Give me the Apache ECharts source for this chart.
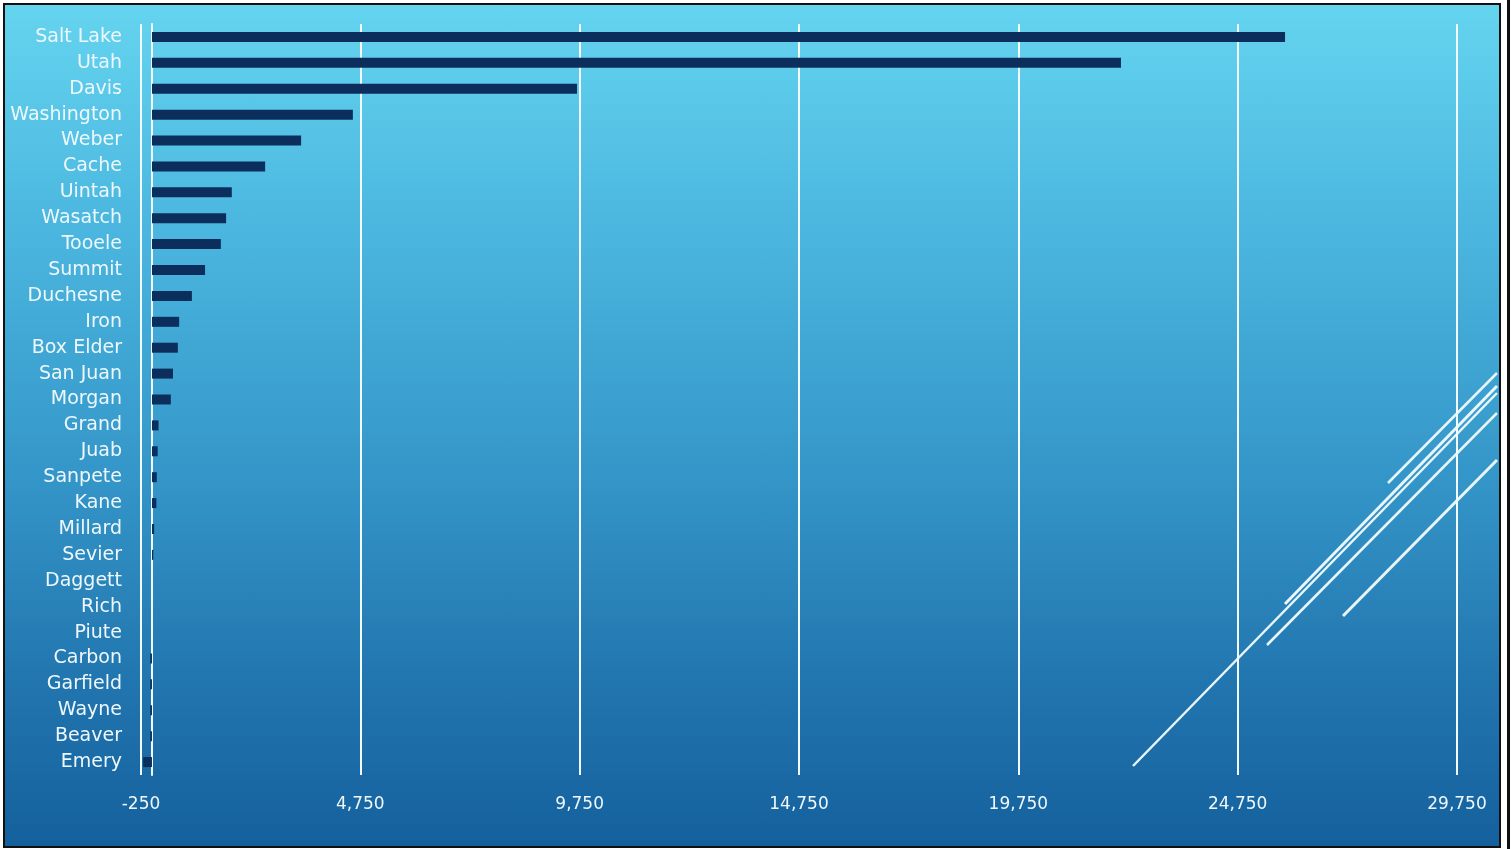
<!DOCTYPE html>
<html>
<head>
<meta charset="utf-8">
<script src="https://cdn.jsdelivr.net/npm/echarts@6/dist/echarts.min.js"></script>
<style>
  html, body { margin: 0; padding: 0; background: #fff; width: 1511px; height: 849px; overflow: hidden; }
  #frame {
    position: absolute; left: 3px; top: 3px; width: 1494px; height: 841px;
    border: 2px solid #111;
    background: linear-gradient(to bottom, #65d4ef 0%, #4cb8e0 25%, #3597c9 55%, #2276af 80%, #14609d 100%);
  }
  #edge { position: absolute; left: 1507px; top: 0; width: 3px; height: 849px; background: #111; }
  #main { position: absolute; left: 0; top: 0; width: 1511px; height: 849px; }
</style>
</head>
<body>
<div id="frame"></div>
<div id="edge"></div>
<div id="main"></div>
<script>
// counties, top to bottom
const counties = ['Salt Lake', 'Utah', 'Davis', 'Washington', 'Weber', 'Cache', 'Uintah', 'Wasatch',
  'Tooele', 'Summit', 'Duchesne', 'Iron', 'Box Elder', 'San Juan', 'Morgan', 'Grand', 'Juab',
  'Sanpete', 'Kane', 'Millard', 'Sevier', 'Daggett', 'Rich', 'Piute', 'Carbon', 'Garfield',
  'Wayne', 'Beaver', 'Emery'];

const values = [25830, 22090, 9690, 4580, 3400, 2580, 1820, 1690,
  1570, 1210, 910, 620, 590, 480, 430, 150, 130,
  110, 100, 50, 30, 0, 0, 0, -40, -40,
  -40, -40, -200];

const axisMin = -250;
const axisMax = 29750;
const axisStep = 5000;

const chart = echarts.init(document.getElementById('main'), null, { renderer: 'canvas' });

const deco = 'rgba(238,249,252,0.97)';
function stroke(x1, y1, x2, y2, w) {
  return { type: 'line', shape: { x1: x1, y1: y1, x2: x2, y2: y2 }, style: { stroke: deco, lineWidth: w }, silent: true };
}

chart.setOption({
  backgroundColor: 'transparent',
  animation: false,
  grid: { left: 141, right: 54, top: 24, bottom: 74, containLabel: false },
  xAxis: {
    type: 'value',
    min: axisMin,
    max: axisMax,
    interval: axisStep,
    axisLine: { show: false },
    axisTick: { show: false },
    splitLine: { show: true, lineStyle: { color: '#f2fbff', width: 2 } },
    axisLabel: {
      color: '#eef8fc', fontSize: 17, fontFamily: 'DejaVu Sans', margin: 21,
      formatter: function (v) { return v.toLocaleString('en-US'); }
    }
  },
  yAxis: {
    type: 'category',
    inverse: true,
    data: counties,
    axisLine: { show: true, onZero: true, lineStyle: { color: '#f2fbff', width: 2 } },
    axisTick: { show: false },
    splitLine: { show: false },
    axisLabel: { color: '#eef8fc', fontSize: 19, fontFamily: 'DejaVu Sans', margin: 19 }
  },
  series: [{
    type: 'bar',
    data: values,
    barWidth: 10,
    itemStyle: { color: '#0b2e5c' }
  }],
  graphic: [
    stroke(1133, 766, 1497, 393, 2.5),
    stroke(1285, 604, 1497, 386, 3),
    stroke(1267, 645, 1497, 413, 2.5),
    stroke(1388, 483, 1497, 373, 2.5),
    stroke(1343, 616, 1497, 460, 3)
  ]
});
</script>
</body>
</html>
